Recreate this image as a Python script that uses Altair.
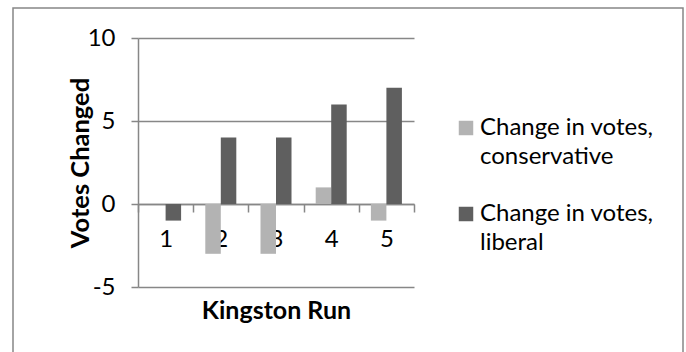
import altair as alt
import pandas as pd

# Vote changes per Kingston run
runs = ["1", "2", "3", "4", "5"]
conservative = [0, -3, -3, 1, -1]
liberal = [-1, 4, 4, 6, 7]

series_names = ["Change in votes, conservative", "Change in votes, liberal"]
series_colors = ["#B3B3B3", "#5F5F5F"]
y_ticks = [-5, 0, 5, 10]

rows = []
for run, c, l in zip(runs, conservative, liberal):
    rows.append({"run": run, "series": series_names[0], "votes": c})
    rows.append({"run": run, "series": series_names[1], "votes": l})
df = pd.DataFrame(rows)

FONT = "Lato"
GRAY = "#878787"
W, H = 276, 249

bars = alt.Chart(df).mark_bar(opacity=1).encode(
    x=alt.X(
        "run:N",
        sort=runs,
        scale=alt.Scale(paddingInner=0, paddingOuter=0),
        axis=alt.Axis(
            title="Kingston Run",
            labelAngle=0,
            offset=-83,
            tickBand="extent",
            tickSize=8,
            tickWidth=1.5,
            tickColor=GRAY,
            domainColor=GRAY,
            domainWidth=1.5,
            labelPadding=15,
            labelFontSize=24,
            labelFont=FONT,
            labelColor="#000000",
            titleFont=FONT,
            titleFontSize=25,
            titleFontWeight="bold",
            titleColor="#000000",
            titleX=W / 2,
            titleY=114,
            titleAlign="center",
            titleBaseline="alphabetic",
            grid=False,
        ),
    ),
    xOffset=alt.XOffset(
        "series:N",
        sort=series_names,
        scale=alt.Scale(paddingInner=0, paddingOuter=0.78),
    ),
    y=alt.Y(
        "votes:Q",
        scale=alt.Scale(domain=[-5, 10], nice=False, zero=False),
        axis=alt.Axis(
            values=y_ticks,
            labelExpr="toString(datum.value)",
            title="Votes Changed",
            grid=True,
            gridColor=GRAY,
            gridWidth=1.5,
            domainColor=GRAY,
            domainWidth=1.5,
            tickColor=GRAY,
            tickWidth=1.5,
            tickSize=7,
            labelPadding=16,
            labelFontSize=24,
            labelFont=FONT,
            labelColor="#000000",
            titleFont=FONT,
            titleFontSize=25.5,
            titleFontWeight="bold",
            titleColor="#000000",
            titleAngle=270,
            titleX=-58,
            titleY=H / 2,
            titleAlign="center",
            titleBaseline="middle",
        ),
    ),
    color=alt.Color(
        "series:N",
        sort=series_names,
        scale=alt.Scale(domain=series_names, range=series_colors),
        legend=alt.Legend(
            title=None,
            orient="none",
            legendX=316,
            legendY=78,
            direction="vertical",
            padding=0,
            symbolType="square",
            symbolSize=210,
            symbolStrokeWidth=0,
            symbolOpacity=1,
            labelExpr="[substring(datum.label, 0, indexof(datum.label, ',') + 1), "
                      "substring(datum.label, indexof(datum.label, ',') + 2)]",
            labelFont=FONT,
            labelFontSize=24,
            labelColor="#000000",
            labelBaseline="middle",
            labelOffset=2,
            labelLimit=0,
            rowPadding=33,
        ),
    ),
)

# chart frame drawn around the whole figure
frame = alt.Chart(pd.DataFrame({"k": [0]})).mark_rect(
    fill=None, stroke=GRAY, strokeWidth=1.5
).encode(
    x=alt.value(-125), x2=alt.value(545), y=alt.value(-30), y2=alt.value(330)
)

chart = alt.layer(frame, bars).properties(
    width=W,
    height=H,
    autosize=alt.AutoSizeParams(type="none"),
    padding={"left": 138, "top": 38, "right": 272, "bottom": 65},
    background="#ffffff",
).configure(
    view=alt.ViewConfig(stroke=None),
    style={"guide-label": {"lineHeight": 29}},
)

chart.save("out.html", embed_options={"renderer": "svg", "actions": False})
